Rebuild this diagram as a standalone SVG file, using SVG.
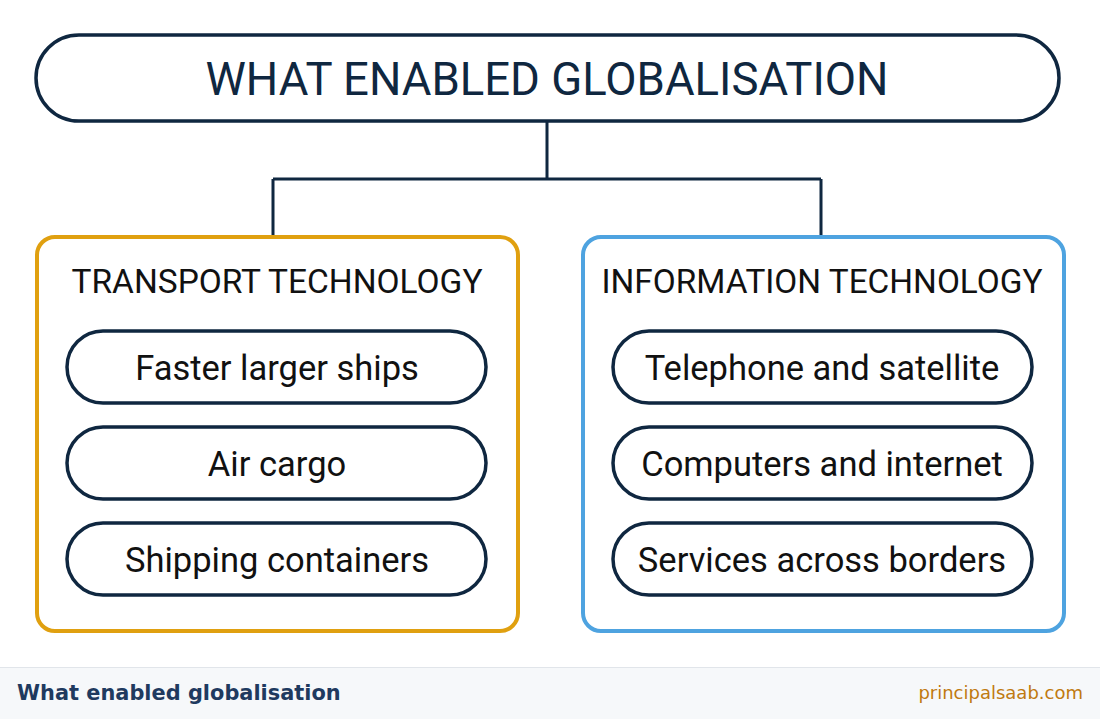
<svg xmlns="http://www.w3.org/2000/svg" width="1100" height="719" viewBox="0 0 1100 719">
<style>
.pill{fill:#fff;stroke:#0f2740;stroke-width:3.5}
.ptxt{font-family:Roboto,"Liberation Sans",sans-serif;font-size:34.5px;fill:#111;text-anchor:middle}
.htxt{font-family:Roboto,"Liberation Sans",sans-serif;font-size:34px;fill:#111;text-anchor:middle}
.conn{fill:none;stroke:#0f2740;stroke-width:3}
</style>
<rect x="0" y="0" width="1100" height="719" fill="#fff"/>
<g id="title">
<rect x="36" y="35" width="1023" height="86" rx="43" fill="#fff" stroke="#0f2740" stroke-width="3.5"/>
<text x="547" y="95" font-family="Roboto,'Liberation Sans',sans-serif" font-size="47" fill="#0f2740" text-anchor="middle" textLength="683" lengthAdjust="spacingAndGlyphs">WHAT ENABLED GLOBALISATION</text>
</g>
<g id="connectors">
<path class="conn" d="M547 121 V179 M273 179 H821 M273 179 V236 M821 179 V236"/>
</g>
<g id="transport">
<rect x="37" y="237" width="481" height="394" rx="18" fill="#fff" stroke="#e0a010" stroke-width="4"/>
<text class="htxt" x="277" y="293" textLength="411" lengthAdjust="spacingAndGlyphs">TRANSPORT TECHNOLOGY</text>
</g>
<g id="ships"><rect class="pill" x="67" y="331" width="419" height="72" rx="36"/><text class="ptxt" x="277" y="380">Faster larger ships</text></g>
<g id="air"><rect class="pill" x="67" y="427" width="419" height="72" rx="36"/><text class="ptxt" x="277" y="476">Air cargo</text></g>
<g id="containers"><rect class="pill" x="67" y="523" width="419" height="72" rx="36"/><text class="ptxt" x="277" y="572">Shipping containers</text></g>
<g id="information">
<rect x="583" y="237" width="481" height="394" rx="18" fill="#fff" stroke="#4ea3e0" stroke-width="4"/>
<text class="htxt" x="822" y="293" textLength="441" lengthAdjust="spacingAndGlyphs">INFORMATION TECHNOLOGY</text>
</g>
<g id="telephone"><rect class="pill" x="613" y="331" width="419" height="72" rx="36"/><text class="ptxt" x="822" y="380">Telephone and satellite</text></g>
<g id="computers"><rect class="pill" x="613" y="427" width="419" height="72" rx="36"/><text class="ptxt" x="822" y="476">Computers and internet</text></g>
<g id="services"><rect class="pill" x="613" y="523" width="419" height="72" rx="36"/><text class="ptxt" x="822" y="572">Services across borders</text></g>
<g id="footer">
<rect x="0" y="667" width="1100" height="52" fill="#f6f8fa"/>
<line x1="0" y1="667.5" x2="1100" y2="667.5" stroke="#e1e5ea" stroke-width="1"/>
<text x="17" y="700" font-family="'DejaVu Sans',sans-serif" font-weight="bold" font-size="20.9" fill="#1f3a5f">What enabled globalisation</text>
<text x="1083" y="699" font-family="'DejaVu Sans',sans-serif" font-size="18" fill="#c07a10" text-anchor="end">principalsaab.com</text>
</g>
</svg>
